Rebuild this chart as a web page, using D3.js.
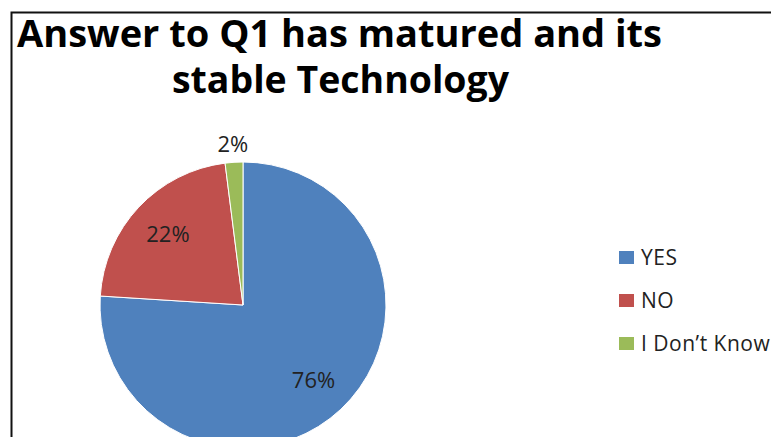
<!DOCTYPE html>
<html>
<head>
<meta charset="utf-8">
<script src="https://cdn.jsdelivr.net/npm/d3@7"></script>
<style>
  html, body { margin: 0; padding: 0; background: #fff; }
  svg { display: block; }
</style>
</head>
<body>
<div id="chart"></div>
<script>
// data
var categories = ["YES", "NO", "I Don\u2019t Know"];
var values = [76, 22, 2];
var colors = ["#4F81BD", "#C0504D", "#9BBB59"];
var titleLines = ["Answer to Q1 has matured and its", "stable Technology"];

var width = 771, height = 437;
var cx = 243, cy = 305, radius = 143;

var svg = d3.select("#chart").append("svg")
  .attr("width", width)
  .attr("height", height);

// frame (only left and top edges are visible in the crop)
svg.append("path")
  .attr("d", "M11.5," + height + "V12.5H" + width)
  .attr("fill", "none")
  .attr("stroke", "#111")
  .attr("stroke-width", 2);

// title
var titleFont = "'Open Sans', 'DejaVu Sans', sans-serif";
svg.append("text")
  .attr("x", 17).attr("y", 47)
  .attr("font-family", titleFont)
  .attr("font-weight", "bold")
  .attr("font-size", 37)
  .attr("textLength", 645)
  .attr("lengthAdjust", "spacingAndGlyphs")
  .attr("fill", "#000")
  .text(titleLines[0]);
svg.append("text")
  .attr("x", 172).attr("y", 93)
  .attr("font-family", titleFont)
  .attr("font-weight", "bold")
  .attr("font-size", 37)
  .attr("textLength", 337)
  .attr("lengthAdjust", "spacingAndGlyphs")
  .attr("fill", "#000")
  .text(titleLines[1]);

// pie
var pie = d3.pie().sort(null).value(function (d) { return d; });
var arcs = pie(values);
var arc = d3.arc().innerRadius(0).outerRadius(radius);

var g = svg.append("g").attr("transform", "translate(" + cx + "," + cy + ")");

g.selectAll("path.slice").data(arcs).enter()
  .append("path")
  .attr("class", "slice")
  .attr("d", arc)
  .attr("fill", function (d, i) { return colors[i]; })
  .attr("stroke", "#fff")
  .attr("stroke-width", 1);

// labels: inside for big slices, outside for small ones
var inner = d3.arc().innerRadius(radius * 0.72).outerRadius(radius * 0.72);
var outer = d3.arc().innerRadius(radius + 18).outerRadius(radius + 18);
var labelFont = "'Open Sans', 'DejaVu Sans', sans-serif";

g.selectAll("text.lbl").data(arcs).enter()
  .append("text")
  .attr("class", "lbl")
  .attr("transform", function (d) {
    var c = (d.endAngle - d.startAngle) < 0.3 ? outer.centroid(d) : inner.centroid(d);
    return "translate(" + c[0] + "," + c[1] + ")";
  })
  .attr("text-anchor", "middle")
  .attr("dy", "0.35em")
  .attr("font-family", labelFont)
  .attr("font-size", 22)
  .attr("fill", "#222")
  .text(function (d) { return d.data + "%"; });

// legend
var legend = svg.append("g").attr("transform", "translate(619,251)");
var rows = legend.selectAll("g").data(categories).enter()
  .append("g")
  .attr("transform", function (d, i) { return "translate(0," + (i * 43) + ")"; });
rows.append("rect")
  .attr("width", 15).attr("height", 13)
  .attr("fill", function (d, i) { return colors[i]; });
rows.append("text")
  .attr("x", 22).attr("y", 14)
  .attr("font-family", labelFont)
  .attr("font-size", 21)
  .attr("letter-spacing", 0.5)
  .attr("fill", "#222")
  .text(function (d) { return d; });
</script>
</body>
</html>
